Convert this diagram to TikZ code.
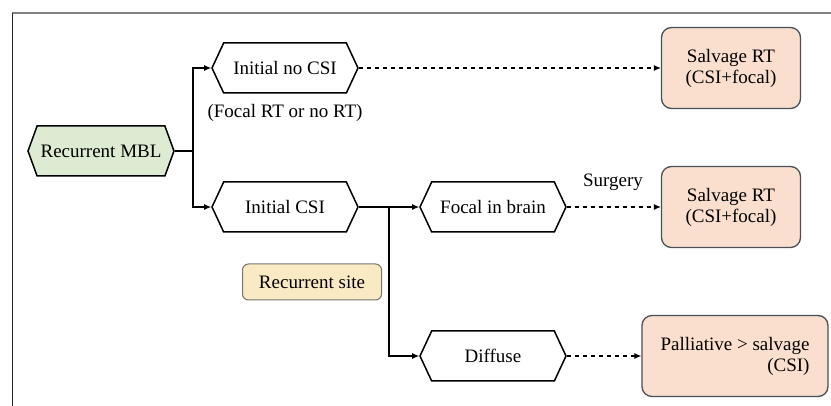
\documentclass[tikz,border=0pt]{standalone}
\usepackage{fontspec}
\setmainfont{Liberation Serif}
\usetikzlibrary{shapes.symbols,arrows.meta,positioning}

\definecolor{mblgreen}{HTML}{DCEBD2}
\definecolor{siteyellow}{HTML}{FAEAC4}
\definecolor{salvpeach}{HTML}{FBDFCE}
\definecolor{salvedge}{HTML}{4A5058}

\begin{document}
\begin{tikzpicture}[x=1pt,y=-1pt,
    font=\fontsize{19}{21}\selectfont,
    hex/.style = {signal, signal to=west and east,
        signal pointer angle=130, draw, line width=1.5pt,
        minimum width=146pt, minimum height=50pt, inner sep=0pt},
    result/.style = {rectangle, rounded corners=10pt,
        draw=salvedge, fill=salvpeach, line width=1.3pt,
        minimum width=139pt, minimum height=81pt, align=center},
    link/.style = {line width=1.1pt, -{Latex[length=7pt,width=6pt]}},
    dashlink/.style = {link, dash pattern=on 4.5pt off 3.5pt}]

\useasboundingbox (0,0) rectangle (831,406);

% Frame
\draw[black!50, line width=1.6pt] (12,13) -- (831,13);
\draw[black!85, line width=0.8pt] (12.5,13) -- (12.5,406);

% Recurrent MBL
\node[hex,fill=mblgreen,signal pointer angle=140] (mbl) at (101,151) {Recurrent MBL};

% Initial treatment
\node[hex] (nocsi) at (285,68) {Initial no CSI};
\node[hex] (csi) at (285,207) {Initial CSI};
\node (focalrt) at (285,113) {(Focal RT or no RT)};

% Recurrent site
\node[hex] (focal) at (493,207) {Focal in brain};
\node[hex] (diffuse) at (493,356) {Diffuse};
\node[rectangle, rounded corners=6pt, draw=black!55, fill=siteyellow,
    line width=1pt, minimum width=139pt, minimum height=36pt] (site) at (312,282) {Recurrent site};

% Salvage
\node[result] (salv1) at (731,68) {Salvage RT\\(CSI+focal)};
\node[result] (salv2) at (731,207) {Salvage RT\\(CSI+focal)};
\node[result, minimum width=186pt, align=right] (pall) at (735,356) {Palliative > salvage\\(CSI)};
\node (surgery) at (613,182) {Surgery};

% Connectors
\coordinate (split1) at (193,151);
\coordinate (split2) at (389,207);
\draw[line width=1.1pt] (mbl.east) -- (split1);
\draw[link] (split1) |- (nocsi.west);
\draw[link] (split1) |- (csi.west);
\draw[link] (csi.east) -- (focal.west);
\draw[link] (split2) |- (diffuse.west);

\draw[dashlink] (nocsi.east) -- (salv1.west);
\draw[dashlink] (focal.east) -- (salv2.west);
\draw[dashlink] (diffuse.east) -- (pall.west);
\end{tikzpicture}
\end{document}
